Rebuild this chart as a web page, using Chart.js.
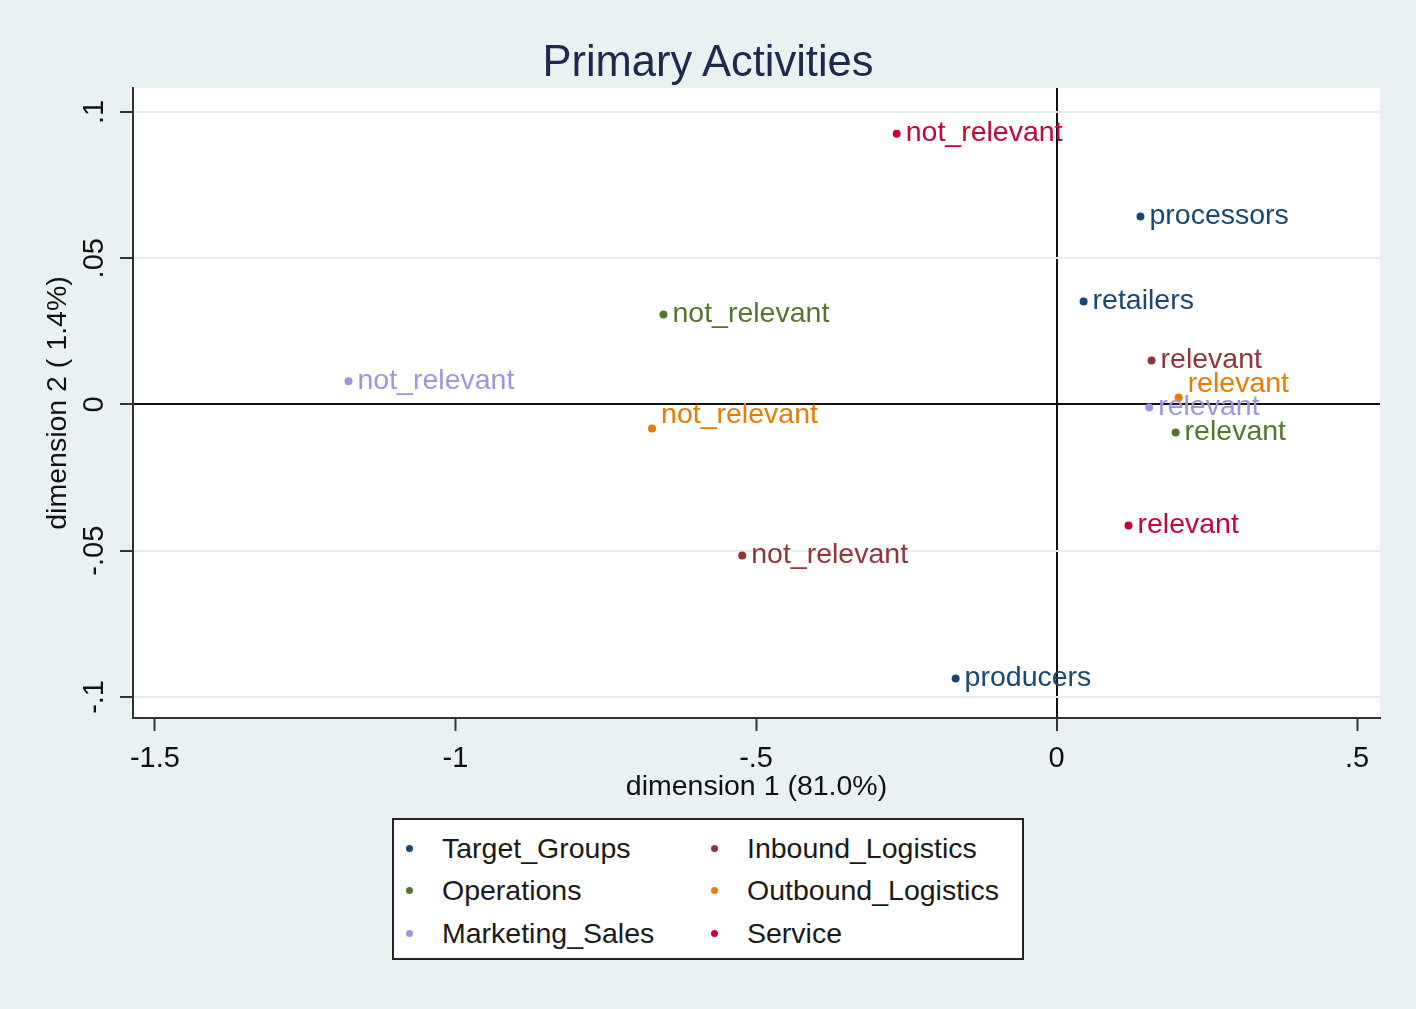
<!DOCTYPE html>
<html>
<head>
<meta charset="utf-8">
<title>Primary Activities</title>
<script src="https://cdn.jsdelivr.net/npm/chart.js@4.4.1/dist/chart.umd.min.js"></script>
<style>
  html, body { margin: 0; padding: 0; background: #e9f1f3; }
  body { width: 1416px; height: 1009px; position: relative; overflow: hidden; font-family: "Liberation Sans", Arial, sans-serif; }
  #wrap { position: absolute; left: 0; top: 0; width: 1416px; height: 1009px; }
  #title { position: absolute; left: 0; width: 1416px; top: 36px; text-align: center; font-size: 43.5px; line-height: 50px; color: #1e2a4c; }
  #legend { position: absolute; left: 392px; top: 818px; width: 632px; height: 142px; border: 2px solid #222; background: #fff;
            display: grid; grid-template-columns: 305px 1fr; grid-auto-rows: 42.5px; padding: 7px 0 0 12px; box-sizing: border-box; }
  .item { display: flex; align-items: center; font-size: 28.5px; color: #1a1a1a; white-space: nowrap; }
  .dot { width: 7px; height: 7px; border-radius: 50%; margin-right: 29px; flex: none; }
</style>
</head>
<body>
<div id="wrap"><canvas id="caChart" width="1416" height="1009"></canvas></div>
<div id="title">Primary Activities</div>
<div id="legend"></div>
<script>
// tick positions / labels
const xTicks = [-1.5, -1, -0.5, 0, 0.5];
const xTickLabels = ['-1.5', '-1', '-.5', '0', '.5'];
const yTicks = [0.1, 0.05, 0, -0.05, -0.1];
const yTickLabels = ['.1', '.05', '0', '-.05', '-.1'];

// groups (legend order, row by row)
const groupNames = ['Target_Groups', 'Inbound_Logistics', 'Operations', 'Outbound_Logistics', 'Marketing_Sales', 'Service'];
const groupColors = ['#1a476f', '#90353b', '#55752f', '#e37e00', '#9b96dd', '#c10534'];

// coordinates
const targetX = [0.1395, 0.0449, -0.168];
const targetY = [0.0643, 0.0352, -0.0937];
const targetLabels = ['processors', 'retailers', 'producers'];

const inboundX = [0.158, -0.523];
const inboundY = [0.015, -0.0516];
const inboundLabels = ['relevant', 'not_relevant'];

const operationsX = [0.198, -0.654];
const operationsY = [-0.0096, 0.0308];
const operationsLabels = ['relevant', 'not_relevant'];

const outboundX = [0.203, -0.673];
const outboundY = [0.0024, -0.0082];
const outboundLabels = ['relevant', 'not_relevant'];

const marketingX = [0.154, -1.178];
const marketingY = [-0.001, 0.0079];
const marketingLabels = ['relevant', 'not_relevant'];

const serviceX = [0.1196, -0.266];
const serviceY = [-0.0414, 0.0926];
const serviceLabels = ['relevant', 'not_relevant'];

const groupX = [targetX, inboundX, operationsX, outboundX, marketingX, serviceX];
const groupY = [targetY, inboundY, operationsY, outboundY, marketingY, serviceY];
const groupLabels = [targetLabels, inboundLabels, operationsLabels, outboundLabels, marketingLabels, serviceLabels];

// outbound labels sit a bit above their markers in the original
const labelLift = { 'Outbound_Logistics': -13 };

const FONT = '"Liberation Sans", Arial, sans-serif';

const datasets = groupNames.map((name, g) => ({
    label: name,
    data: groupX[g].map((x, i) => ({ x: x, y: groupY[g][i] })),
    pointLabels: groupLabels[g],
    backgroundColor: groupColors[g],
    borderColor: groupColors[g],
    borderWidth: 0,
    pointRadius: 4,
    pointHoverRadius: 4
}));

const plotBg = {
    id: 'plotBg',
    beforeDraw(chart) {
        const a = chart.chartArea, c = chart.ctx;
        c.save();
        c.fillStyle = '#ffffff';
        c.fillRect(a.left, a.top, a.right - a.left, a.bottom - a.top);
        c.restore();
    }
};

const labelsPlugin = {
    id: 'pointText',
    afterDatasetsDraw(chart) {
        const c = chart.ctx;
        c.save();
        c.font = '28.5px ' + FONT;
        c.textBaseline = 'middle';
        c.textAlign = 'left';
        chart.data.datasets.forEach((ds, di) => {
            const meta = chart.getDatasetMeta(di);
            const lift = labelLift[ds.label] || 0;
            c.fillStyle = ds.backgroundColor;
            meta.data.forEach((pt, i) => {
                c.fillText(ds.pointLabels[i], pt.x + 9, pt.y + lift);
            });
        });
        // y tick labels, rotated like the original
        const ys = chart.scales.y;
        c.fillStyle = '#111';
        c.font = '29px ' + FONT;
        c.textAlign = 'center';
        yTicks.forEach((v, i) => {
            c.save();
            c.translate(95, ys.getPixelForValue(v));
            c.rotate(-Math.PI / 2);
            c.fillText(yTickLabels[i], 0, 0);
            c.restore();
        });
        c.restore();
    }
};

new Chart(document.getElementById('caChart'), {
    type: 'scatter',
    data: { datasets },
    options: {
        responsive: false,
        animation: false,
        layout: { padding: { left: 0, top: 88, right: 36, bottom: 201 } },
        plugins: { legend: { display: false }, tooltip: { enabled: false } },
        scales: {
            x: {
                min: -1.5365,
                max: 0.538,
                afterBuildTicks: s => { s.ticks = xTicks.map(v => ({ value: v })); },
                afterFit: s => { s.height = 90; },
                ticks: {
                    padding: 11,
                    color: '#111',
                    font: { size: 29, family: FONT },
                    maxRotation: 0,
                    callback: (v, i) => xTickLabels[i]
                },
                grid: {
                    color: c => c.tick && c.tick.value === 0 ? '#111' : 'rgba(0,0,0,0)',
                    lineWidth: c => c.tick && c.tick.value === 0 ? 2 : 1,
                    tickColor: '#333',
                    tickLength: 13,
                    tickWidth: 2
                },
                border: { color: '#333', width: 2 },
                title: {
                    display: true,
                    text: 'dimension 1 (81.0%)',
                    color: '#111',
                    font: { size: 28.5, family: FONT },
                    padding: { top: 0, bottom: 4 }
                }
            },
            y: {
                min: -0.1072,
                max: 0.1082,
                afterBuildTicks: s => { s.ticks = yTicks.map(v => ({ value: v })); },
                afterFit: s => { s.width = 133; },
                ticks: { display: false },
                grid: {
                    color: c => c.tick && c.tick.value === 0 ? '#111' : '#e3eef1',
                    lineWidth: 2,
                    tickColor: '#333',
                    tickLength: 13,
                    tickWidth: 2
                },
                border: { color: '#333', width: 2 },
                title: {
                    display: true,
                    text: 'dimension 2 ( 1.4%)',
                    color: '#111',
                    font: { size: 28.5, family: FONT },
                    padding: { top: 41, bottom: 0 }
                }
            }
        }
    },
    plugins: [plotBg, labelsPlugin]
});

// legend box
const legendEl = document.getElementById('legend');
groupNames.forEach((name, g) => {
    const it = document.createElement('div');
    it.className = 'item';
    it.innerHTML = '<span class="dot" style="background:' + groupColors[g] + '"></span>' + name;
    legendEl.appendChild(it);
});
</script>
</body>
</html>
